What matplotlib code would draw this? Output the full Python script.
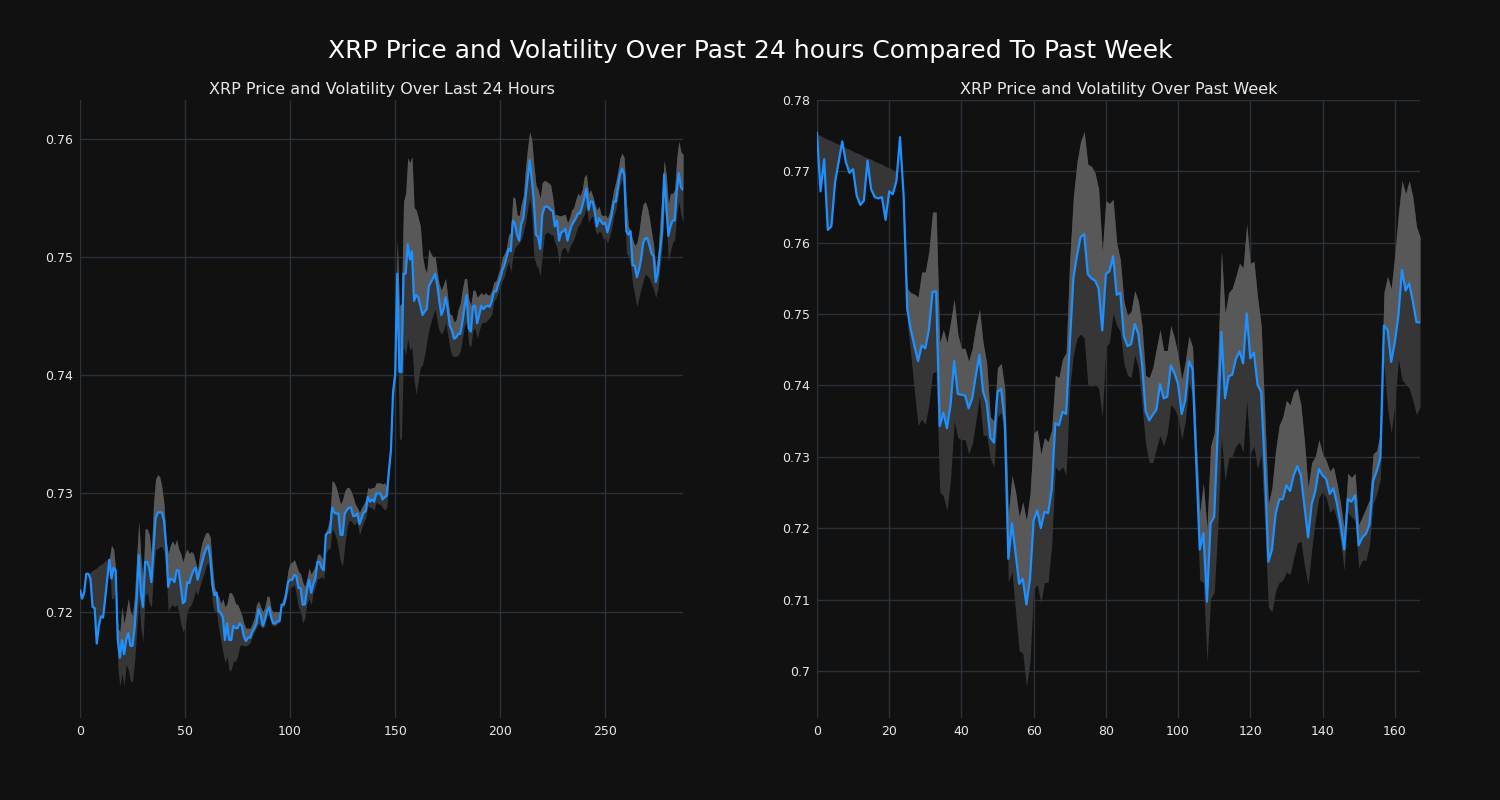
"""XRP price with volatility band: last 24 hours (5-min) vs past week (hourly)."""
import matplotlib
matplotlib.use("Agg")
import matplotlib.pyplot as plt
from matplotlib.ticker import FuncFormatter, MultipleLocator

# ---- last 24 hours, 5-minute steps ----
day_price = [
    0.7218, 0.7211, 0.7216, 0.7232, 0.7232, 0.7228, 0.7204, 0.7203, 0.7173, 0.7188,
    0.7196, 0.7195, 0.7211, 0.7228, 0.7244, 0.7228, 0.7237, 0.7235, 0.7176, 0.7161,
    0.7176, 0.7164, 0.7176, 0.7182, 0.7171, 0.7171, 0.7186, 0.7211, 0.7248, 0.7216,
    0.7204, 0.7242, 0.7242, 0.7237, 0.7225, 0.7253, 0.7279, 0.7284, 0.7284, 0.7284,
    0.7277, 0.7256, 0.7221, 0.7228, 0.7227, 0.7225, 0.7235, 0.7235, 0.7221, 0.7207,
    0.7209, 0.7225, 0.7224, 0.7230, 0.7235, 0.7237, 0.7227, 0.7234, 0.7241, 0.7248,
    0.7253, 0.7256, 0.7246, 0.7223, 0.7214, 0.7216, 0.7200, 0.7199, 0.7195, 0.7176,
    0.7190, 0.7176, 0.7176, 0.7188, 0.7186, 0.7186, 0.7190, 0.7188, 0.7179, 0.7175,
    0.7178, 0.7178, 0.7183, 0.7186, 0.7190, 0.7202, 0.7197, 0.7188, 0.7193, 0.7200,
    0.7204, 0.7195, 0.7190, 0.7190, 0.7192, 0.7192, 0.7206, 0.7206, 0.7213, 0.7225,
    0.7227, 0.7227, 0.7231, 0.7230, 0.7220, 0.7220, 0.7206, 0.7206, 0.7218, 0.7227,
    0.7216, 0.7223, 0.7228, 0.7242, 0.7242, 0.7237, 0.7235, 0.7265, 0.7267, 0.7267,
    0.7288, 0.7284, 0.7283, 0.7283, 0.7265, 0.7265, 0.7283, 0.7286, 0.7288, 0.7288,
    0.7281, 0.7281, 0.7283, 0.7274, 0.7279, 0.7284, 0.7285, 0.7297, 0.7293, 0.7295,
    0.7293, 0.7300, 0.7300, 0.7300, 0.7295, 0.7297, 0.7298, 0.7319, 0.7337, 0.7386,
    0.7400, 0.7486, 0.7403, 0.7403, 0.7486, 0.7486, 0.7511, 0.7498, 0.7505, 0.7463,
    0.7468, 0.7466, 0.7459, 0.7451, 0.7454, 0.7456, 0.7475, 0.7479, 0.7482, 0.7486,
    0.7477, 0.7463, 0.7451, 0.7456, 0.7466, 0.7456, 0.7442, 0.7438, 0.7431, 0.7432,
    0.7435, 0.7435, 0.7445, 0.7458, 0.7468, 0.7440, 0.7437, 0.7458, 0.7459, 0.7444,
    0.7451, 0.7459, 0.7456, 0.7458, 0.7459, 0.7458, 0.7463, 0.7471, 0.7471, 0.7477,
    0.7482, 0.7489, 0.7493, 0.7500, 0.7507, 0.7505, 0.7531, 0.7528, 0.7519, 0.7514,
    0.7528, 0.7533, 0.7550, 0.7566, 0.7582, 0.7566, 0.7547, 0.7519, 0.7517, 0.7507,
    0.7536, 0.7542, 0.7543, 0.7542, 0.7540, 0.7539, 0.7526, 0.7531, 0.7514, 0.7521,
    0.7522, 0.7524, 0.7514, 0.7521, 0.7527, 0.7530, 0.7533, 0.7537, 0.7537, 0.7543,
    0.7550, 0.7558, 0.7540, 0.7547, 0.7547, 0.7538, 0.7526, 0.7533, 0.7530, 0.7528,
    0.7529, 0.7521, 0.7528, 0.7535, 0.7547, 0.7547, 0.7559, 0.7570, 0.7575, 0.7570,
    0.7522, 0.7519, 0.7522, 0.7493, 0.7493, 0.7483, 0.7489, 0.7498, 0.7512, 0.7516,
    0.7516, 0.7510, 0.7503, 0.7501, 0.7479, 0.7487, 0.7505, 0.7521, 0.7570, 0.7545,
    0.7518, 0.7526, 0.7531, 0.7531, 0.7556, 0.7571, 0.7559, 0.7557,
]
day_upper = [
    0.7221, 0.7216, 0.7220, 0.7234, 0.7232, 0.7233, 0.7235, 0.7236, 0.7237, 0.7239,
    0.7240, 0.7241, 0.7243, 0.7244, 0.7245, 0.7256, 0.7253, 0.7235, 0.7186, 0.7183,
    0.7204, 0.7190, 0.7200, 0.7211, 0.7200, 0.7197, 0.7214, 0.7246, 0.7276, 0.7246,
    0.7225, 0.7270, 0.7270, 0.7265, 0.7249, 0.7291, 0.7312, 0.7316, 0.7314, 0.7305,
    0.7291, 0.7260, 0.7249, 0.7256, 0.7260, 0.7256, 0.7261, 0.7253, 0.7249, 0.7242,
    0.7249, 0.7253, 0.7249, 0.7251, 0.7249, 0.7242, 0.7235, 0.7249, 0.7258, 0.7263,
    0.7267, 0.7267, 0.7263, 0.7239, 0.7221, 0.7216, 0.7213, 0.7207, 0.7211, 0.7204,
    0.7207, 0.7216, 0.7216, 0.7213, 0.7207, 0.7206, 0.7202, 0.7197, 0.7190, 0.7186,
    0.7186, 0.7186, 0.7190, 0.7195, 0.7206, 0.7209, 0.7204, 0.7200, 0.7204, 0.7213,
    0.7213, 0.7202, 0.7200, 0.7200, 0.7200, 0.7200, 0.7207, 0.7213, 0.7221, 0.7235,
    0.7241, 0.7242, 0.7244, 0.7239, 0.7234, 0.7232, 0.7225, 0.7221, 0.7228, 0.7237,
    0.7232, 0.7235, 0.7239, 0.7248, 0.7249, 0.7246, 0.7242, 0.7267, 0.7272, 0.7281,
    0.7311, 0.7309, 0.7305, 0.7298, 0.7291, 0.7295, 0.7302, 0.7305, 0.7305, 0.7302,
    0.7297, 0.7291, 0.7288, 0.7284, 0.7288, 0.7291, 0.7295, 0.7305, 0.7304, 0.7305,
    0.7305, 0.7309, 0.7309, 0.7309, 0.7308, 0.7309, 0.7305, 0.7322, 0.7340, 0.7396,
    0.7417, 0.7515, 0.7459, 0.7461, 0.7547, 0.7554, 0.7584, 0.7580, 0.7585, 0.7542,
    0.7540, 0.7533, 0.7526, 0.7501, 0.7491, 0.7487, 0.7507, 0.7503, 0.7500, 0.7501,
    0.7487, 0.7477, 0.7472, 0.7477, 0.7482, 0.7466, 0.7452, 0.7451, 0.7445, 0.7447,
    0.7456, 0.7461, 0.7473, 0.7482, 0.7482, 0.7465, 0.7459, 0.7472, 0.7472, 0.7466,
    0.7468, 0.7470, 0.7468, 0.7470, 0.7468, 0.7468, 0.7472, 0.7479, 0.7480, 0.7486,
    0.7491, 0.7500, 0.7503, 0.7508, 0.7519, 0.7521, 0.7551, 0.7550, 0.7536, 0.7535,
    0.7545, 0.7552, 0.7575, 0.7592, 0.7606, 0.7599, 0.7578, 0.7561, 0.7557, 0.7550,
    0.7563, 0.7565, 0.7564, 0.7563, 0.7561, 0.7550, 0.7536, 0.7536, 0.7535, 0.7535,
    0.7536, 0.7536, 0.7529, 0.7533, 0.7540, 0.7542, 0.7549, 0.7554, 0.7552, 0.7557,
    0.7568, 0.7570, 0.7554, 0.7557, 0.7552, 0.7545, 0.7540, 0.7543, 0.7536, 0.7535,
    0.7536, 0.7533, 0.7538, 0.7547, 0.7557, 0.7564, 0.7573, 0.7584, 0.7588, 0.7584,
    0.7547, 0.7526, 0.7522, 0.7515, 0.7510, 0.7512, 0.7521, 0.7535, 0.7545, 0.7547,
    0.7542, 0.7533, 0.7521, 0.7510, 0.7491, 0.7501, 0.7529, 0.7554, 0.7582, 0.7570,
    0.7545, 0.7554, 0.7554, 0.7557, 0.7584, 0.7598, 0.7589, 0.7587,
]
day_lower = [
    0.7218, 0.7211, 0.7216, 0.7232, 0.7232, 0.7228, 0.7204, 0.7203, 0.7173, 0.7188,
    0.7196, 0.7195, 0.7211, 0.7228, 0.7244, 0.7211, 0.7211, 0.7221, 0.7153, 0.7137,
    0.7148, 0.7137, 0.7155, 0.7151, 0.7141, 0.7141, 0.7158, 0.7183, 0.7211, 0.7186,
    0.7174, 0.7214, 0.7216, 0.7207, 0.7204, 0.7232, 0.7253, 0.7253, 0.7255, 0.7255,
    0.7251, 0.7234, 0.7200, 0.7204, 0.7206, 0.7204, 0.7206, 0.7200, 0.7190, 0.7183,
    0.7186, 0.7200, 0.7204, 0.7206, 0.7211, 0.7218, 0.7214, 0.7221, 0.7227, 0.7232,
    0.7239, 0.7242, 0.7232, 0.7207, 0.7200, 0.7200, 0.7186, 0.7176, 0.7166, 0.7157,
    0.7162, 0.7150, 0.7151, 0.7158, 0.7158, 0.7162, 0.7171, 0.7172, 0.7171, 0.7171,
    0.7172, 0.7174, 0.7179, 0.7183, 0.7186, 0.7190, 0.7188, 0.7186, 0.7188, 0.7197,
    0.7197, 0.7190, 0.7188, 0.7188, 0.7190, 0.7191, 0.7204, 0.7204, 0.7209, 0.7218,
    0.7221, 0.7221, 0.7223, 0.7214, 0.7204, 0.7200, 0.7190, 0.7195, 0.7207, 0.7211,
    0.7206, 0.7216, 0.7221, 0.7228, 0.7228, 0.7230, 0.7227, 0.7249, 0.7253, 0.7253,
    0.7270, 0.7267, 0.7262, 0.7253, 0.7242, 0.7239, 0.7256, 0.7270, 0.7277, 0.7277,
    0.7274, 0.7274, 0.7276, 0.7265, 0.7270, 0.7276, 0.7279, 0.7290, 0.7288, 0.7288,
    0.7286, 0.7293, 0.7291, 0.7291, 0.7288, 0.7286, 0.7288, 0.7312, 0.7332, 0.7381,
    0.7389, 0.7445, 0.7346, 0.7346, 0.7424, 0.7417, 0.7431, 0.7421, 0.7424, 0.7396,
    0.7384, 0.7396, 0.7407, 0.7409, 0.7417, 0.7428, 0.7438, 0.7445, 0.7451, 0.7456,
    0.7445, 0.7438, 0.7435, 0.7438, 0.7445, 0.7435, 0.7423, 0.7417, 0.7416, 0.7416,
    0.7417, 0.7421, 0.7431, 0.7442, 0.7445, 0.7426, 0.7424, 0.7438, 0.7440, 0.7431,
    0.7438, 0.7444, 0.7445, 0.7445, 0.7447, 0.7449, 0.7452, 0.7463, 0.7465, 0.7470,
    0.7475, 0.7480, 0.7484, 0.7491, 0.7496, 0.7487, 0.7501, 0.7508, 0.7510, 0.7512,
    0.7515, 0.7521, 0.7529, 0.7540, 0.7550, 0.7536, 0.7501, 0.7494, 0.7491, 0.7484,
    0.7501, 0.7519, 0.7521, 0.7521, 0.7519, 0.7519, 0.7512, 0.7508, 0.7494, 0.7505,
    0.7508, 0.7508, 0.7503, 0.7508, 0.7512, 0.7515, 0.7521, 0.7526, 0.7528, 0.7533,
    0.7536, 0.7543, 0.7529, 0.7533, 0.7535, 0.7524, 0.7519, 0.7522, 0.7521, 0.7515,
    0.7517, 0.7512, 0.7517, 0.7524, 0.7535, 0.7540, 0.7550, 0.7561, 0.7566, 0.7557,
    0.7503, 0.7501, 0.7494, 0.7477, 0.7468, 0.7458, 0.7466, 0.7473, 0.7480, 0.7486,
    0.7484, 0.7482, 0.7477, 0.7473, 0.7466, 0.7473, 0.7491, 0.7508, 0.7540, 0.7533,
    0.7496, 0.7505, 0.7512, 0.7515, 0.7536, 0.7547, 0.7536, 0.7529,
]

# ---- past week, hourly steps ----
week_price = [
    0.7754, 0.7672, 0.7717, 0.7618, 0.7623, 0.7684, 0.7713, 0.7742, 0.7713, 0.7698,
    0.7703, 0.7666, 0.7653, 0.7659, 0.7715, 0.7675, 0.7664, 0.7662, 0.7664, 0.7632,
    0.7672, 0.7668, 0.7686, 0.7748, 0.7666, 0.7507, 0.7478, 0.7455, 0.7434, 0.7456,
    0.7452, 0.7478, 0.7531, 0.7532, 0.7343, 0.7362, 0.7340, 0.7373, 0.7434, 0.7388,
    0.7387, 0.7386, 0.7368, 0.7382, 0.7414, 0.7443, 0.7391, 0.7376, 0.7327, 0.7320,
    0.7391, 0.7395, 0.7350, 0.7157, 0.7207, 0.7164, 0.7122, 0.7129, 0.7093, 0.7129,
    0.7211, 0.7225, 0.7200, 0.7223, 0.7221, 0.7254, 0.7347, 0.7344, 0.7363, 0.7360,
    0.7457, 0.7550, 0.7582, 0.7608, 0.7612, 0.7556, 0.7550, 0.7547, 0.7536, 0.7477,
    0.7556, 0.7560, 0.7581, 0.7527, 0.7530, 0.7469, 0.7455, 0.7458, 0.7486, 0.7472,
    0.7431, 0.7364, 0.7351, 0.7359, 0.7366, 0.7402, 0.7382, 0.7384, 0.7428, 0.7417,
    0.7402, 0.7360, 0.7380, 0.7434, 0.7423, 0.7298, 0.7170, 0.7193, 0.7097, 0.7207,
    0.7216, 0.7338, 0.7475, 0.7382, 0.7413, 0.7415, 0.7437, 0.7448, 0.7431, 0.7501,
    0.7438, 0.7446, 0.7401, 0.7391, 0.7286, 0.7153, 0.7170, 0.7220, 0.7240, 0.7241,
    0.7260, 0.7252, 0.7274, 0.7287, 0.7274, 0.7231, 0.7187, 0.7234, 0.7252, 0.7283,
    0.7274, 0.7269, 0.7248, 0.7256, 0.7234, 0.7205, 0.7170, 0.7241, 0.7237, 0.7246,
    0.7176, 0.7187, 0.7192, 0.7205, 0.7266, 0.7280, 0.7298, 0.7484, 0.7478, 0.7433,
    0.7460, 0.7498, 0.7562, 0.7533, 0.7543, 0.7518, 0.7489, 0.7488,
]
week_upper = [
    0.7752, 0.7750, 0.7747, 0.7745, 0.7743, 0.7740, 0.7738, 0.7736, 0.7733, 0.7731,
    0.7728, 0.7726, 0.7724, 0.7721, 0.7719, 0.7717, 0.7714, 0.7712, 0.7710, 0.7707,
    0.7705, 0.7702, 0.7700, 0.7748, 0.7666, 0.7536, 0.7530, 0.7528, 0.7524, 0.7559,
    0.7559, 0.7588, 0.7643, 0.7643, 0.7460, 0.7478, 0.7460, 0.7489, 0.7521, 0.7472,
    0.7452, 0.7452, 0.7434, 0.7452, 0.7484, 0.7507, 0.7460, 0.7431, 0.7356, 0.7350,
    0.7425, 0.7431, 0.7396, 0.7219, 0.7274, 0.7251, 0.7216, 0.7237, 0.7211, 0.7248,
    0.7333, 0.7338, 0.7304, 0.7327, 0.7321, 0.7338, 0.7414, 0.7411, 0.7437, 0.7446,
    0.7576, 0.7664, 0.7713, 0.7742, 0.7756, 0.7710, 0.7707, 0.7698, 0.7675, 0.7588,
    0.7659, 0.7655, 0.7661, 0.7600, 0.7576, 0.7518, 0.7498, 0.7504, 0.7533, 0.7518,
    0.7484, 0.7414, 0.7411, 0.7425, 0.7452, 0.7478, 0.7449, 0.7449, 0.7484, 0.7466,
    0.7443, 0.7408, 0.7434, 0.7469, 0.7454, 0.7327, 0.7222, 0.7263, 0.7199, 0.7315,
    0.7333, 0.7437, 0.7588, 0.7501, 0.7530, 0.7536, 0.7553, 0.7571, 0.7565, 0.7626,
    0.7571, 0.7574, 0.7524, 0.7484, 0.7362, 0.7234, 0.7257, 0.7309, 0.7344, 0.7356,
    0.7379, 0.7373, 0.7391, 0.7396, 0.7373, 0.7321, 0.7257, 0.7292, 0.7301, 0.7324,
    0.7304, 0.7295, 0.7280, 0.7286, 0.7263, 0.7234, 0.7199, 0.7277, 0.7271, 0.7277,
    0.7205, 0.7216, 0.7228, 0.7240, 0.7304, 0.7309, 0.7333, 0.7530, 0.7553, 0.7536,
    0.7582, 0.7640, 0.7687, 0.7669, 0.7687, 0.7664, 0.7623, 0.7608,
]
week_lower = [
    0.7754, 0.7672, 0.7717, 0.7618, 0.7623, 0.7684, 0.7713, 0.7742, 0.7713, 0.7698,
    0.7703, 0.7666, 0.7653, 0.7659, 0.7715, 0.7675, 0.7664, 0.7662, 0.7664, 0.7632,
    0.7672, 0.7668, 0.7686, 0.7748, 0.7666, 0.7489, 0.7443, 0.7391, 0.7344, 0.7353,
    0.7345, 0.7373, 0.7417, 0.7420, 0.7251, 0.7245, 0.7225, 0.7269, 0.7350, 0.7327,
    0.7324, 0.7324, 0.7304, 0.7318, 0.7350, 0.7385, 0.7330, 0.7330, 0.7298, 0.7286,
    0.7356, 0.7362, 0.7327, 0.7124, 0.7139, 0.7083, 0.7028, 0.7025, 0.6978, 0.7013,
    0.7115, 0.7121, 0.7095, 0.7124, 0.7124, 0.7176, 0.7286, 0.7280, 0.7286, 0.7274,
    0.7396, 0.7443, 0.7466, 0.7472, 0.7466, 0.7402, 0.7399, 0.7402, 0.7396, 0.7356,
    0.7454, 0.7460, 0.7501, 0.7484, 0.7475, 0.7431, 0.7414, 0.7411, 0.7443, 0.7425,
    0.7373, 0.7318, 0.7292, 0.7292, 0.7312, 0.7330, 0.7315, 0.7333, 0.7373, 0.7367,
    0.7356, 0.7324, 0.7350, 0.7405, 0.7385, 0.7257, 0.7127, 0.7124, 0.7013, 0.7101,
    0.7110, 0.7199, 0.7327, 0.7266, 0.7298, 0.7301, 0.7315, 0.7321, 0.7306, 0.7379,
    0.7304, 0.7315, 0.7283, 0.7304, 0.7205, 0.7089, 0.7083, 0.7112, 0.7124, 0.7127,
    0.7139, 0.7135, 0.7158, 0.7179, 0.7182, 0.7147, 0.7121, 0.7170, 0.7211, 0.7243,
    0.7251, 0.7243, 0.7222, 0.7228, 0.7211, 0.7182, 0.7141, 0.7222, 0.7216, 0.7211,
    0.7144, 0.7155, 0.7155, 0.7176, 0.7234, 0.7248, 0.7269, 0.7431, 0.7367, 0.7333,
    0.7373, 0.7437, 0.7408, 0.7402, 0.7396, 0.7379, 0.7359, 0.7370,
]

BG = "#111111"
GRID = "#29313d"
TXT = "#e8e8e8"
LINE = "#1e90ff"
BAND_DARK = "#363636"
BAND_LIGHT = "#585858"


def fmt(v, _pos):
    return f"{v:g}"


def panel(ax, price, upper, lower, title, ylim, xmajor):
    x = range(len(price))
    below = [lo < p for lo, p in zip(lower, price)]
    ax.fill_between(x, lower, upper, color=BAND_DARK, lw=0, zorder=1)
    ax.fill_between(x, price, upper, where=below, color=BAND_LIGHT, lw=0,
                    zorder=2, interpolate=True)
    ax.plot(x, price, color=LINE, lw=1.6, zorder=3)
    ax.set_facecolor(BG)
    ax.set_xlim(0, len(price) - 1)
    ax.set_ylim(*ylim)
    ax.xaxis.set_major_locator(MultipleLocator(xmajor))
    ax.yaxis.set_major_locator(MultipleLocator(0.01))
    ax.yaxis.set_major_formatter(FuncFormatter(fmt))
    ax.grid(True, color=GRID, lw=1.0)
    ax.set_axisbelow(True)
    for s in ax.spines.values():
        s.set_visible(False)
    ax.tick_params(length=0, colors=TXT, labelsize=9, pad=5)
    ax.set_title(title, color=TXT, fontsize=11.5, pad=4)


fig, (ax1, ax2) = plt.subplots(1, 2, figsize=(15, 8), dpi=100, facecolor=BG)
fig.subplots_adjust(left=0.0533, right=0.9467, bottom=0.1025, top=0.875, wspace=0.222)
panel(ax1, day_price, day_upper, day_lower,
      "XRP Price and Volatility Over Last 24 Hours", (0.7110, 0.7633), 50)
panel(ax2, week_price, week_upper, week_lower,
      "XRP Price and Volatility Over Past Week", (0.6934, 0.7800), 20)
fig.suptitle("XRP Price and Volatility Over Past 24 hours Compared To Past Week",
             color="white", fontsize=18, y=0.9365, va="center")
fig.savefig("out.png", facecolor=BG)
plt.close(fig)
